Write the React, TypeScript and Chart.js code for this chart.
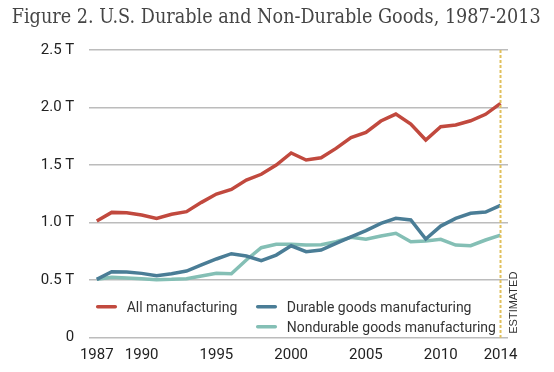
import React, { useEffect, useRef } from 'react';
import { Chart, registerables } from 'chart.js';

Chart.register(...registerables);

const titleText = 'Figure 2. U.S. Durable and Non-Durable Goods, 1987-2013';

const years = [
  1987, 1988, 1989, 1990, 1991, 1992, 1993, 1994, 1995, 1996,
  1997, 1998, 1999, 2000, 2001, 2002, 2003, 2004, 2005, 2006,
  2007, 2008, 2009, 2010, 2011, 2012, 2013, 2014,
];

// trillions of dollars
const allManufacturing = [
  1.014, 1.089, 1.086, 1.066, 1.037, 1.072, 1.095, 1.176, 1.248, 1.289,
  1.37, 1.42, 1.5, 1.605, 1.544, 1.564, 1.645, 1.738, 1.784, 1.883,
  1.943, 1.857, 1.718, 1.833, 1.848, 1.885, 1.941, 2.036,
];

const durableGoods = [
  0.507, 0.573, 0.571, 0.559, 0.539, 0.556, 0.579, 0.632, 0.684, 0.73,
  0.71, 0.669, 0.718, 0.799, 0.747, 0.762, 0.82, 0.877, 0.93, 0.994,
  1.037, 1.023, 0.858, 0.97, 1.037, 1.081, 1.092, 1.15,
];

const nondurableGoods = [
  0.507, 0.525, 0.519, 0.513, 0.504, 0.507, 0.513, 0.536, 0.559, 0.556,
  0.675, 0.782, 0.811, 0.811, 0.805, 0.808, 0.834, 0.872, 0.855, 0.884,
  0.907, 0.834, 0.84, 0.855, 0.805, 0.799, 0.849, 0.892,
];

const seriesLabels = [
  'All manufacturing',
  'Durable goods manufacturing',
  'Nondurable goods manufacturing',
];
const seriesColors = ['#c1493e', '#4a7d96', '#84bfb5'];

const xTickYears = [1987, 1990, 1995, 2000, 2005, 2010, 2014];
const yTickValues = [0, 0.5, 1, 1.5, 2, 2.5];
const estimatedYear = 2014;
const estimatedLabel = 'ESTIMATED';

const toPoints = (vals: number[]) => vals.map((v, i) => ({ x: years[i], y: v }));

const legendSlots = [
  { x: 95.7, y: 306.7 },
  { x: 255.7, y: 306.7 },
  { x: 255.7, y: 326.7 },
];

const overlayPlugin = {
  id: 'overlay',
  afterDatasetsDraw(chart: any) {
    const { ctx, chartArea, scales } = chart;
    const px = scales.x.getPixelForValue(estimatedYear);

    // estimated marker line
    ctx.save();
    ctx.strokeStyle = '#e0c05c';
    ctx.lineWidth = 2;
    ctx.setLineDash([3, 2]);
    ctx.beginPath();
    ctx.moveTo(px, chartArea.top);
    ctx.lineTo(px, chartArea.bottom);
    ctx.stroke();
    ctx.restore();

    // ESTIMATED label
    ctx.save();
    ctx.translate(px + 13.5, chartArea.bottom - 35);
    ctx.rotate(-Math.PI / 2);
    ctx.font = '11px "Liberation Sans", Arial, sans-serif';
    ctx.fillStyle = '#333';
    ctx.textAlign = 'center';
    ctx.textBaseline = 'middle';
    ctx.fillText(estimatedLabel, 0, 0);
    ctx.restore();
  },
  afterDraw(chart: any) {
    const { ctx } = chart;
    // title
    ctx.save();
    ctx.font = '19.5px "DejaVu Serif", serif';
    ctx.fillStyle = '#454545';
    ctx.textAlign = 'left';
    ctx.textBaseline = 'alphabetic';
    const w = ctx.measureText(titleText).width;
    const target = 529;
    ctx.translate(11.7, 23.3);
    ctx.scale(target / w, 1);
    ctx.fillText(titleText, 0, 0);
    ctx.restore();

    // legend
    chart.data.datasets.forEach((ds: any, i: number) => {
      const slot = legendSlots[i];
      if (!slot) return;
      ctx.save();
      ctx.strokeStyle = ds.borderColor;
      ctx.lineWidth = 3.5;
      ctx.lineCap = 'round';
      ctx.beginPath();
      ctx.moveTo(slot.x + 2, slot.y);
      ctx.lineTo(slot.x + 19.6, slot.y);
      ctx.stroke();
      ctx.font = '14px Roboto, sans-serif';
      ctx.fillStyle = '#333';
      ctx.textAlign = 'left';
      ctx.textBaseline = 'alphabetic';
      ctx.fillText(ds.label, slot.x + 31, slot.y + 4.8);
      ctx.restore();
    });
  },
};

export default function App() {
  const canvasRef = useRef<HTMLCanvasElement | null>(null);

  useEffect(() => {
    if (!canvasRef.current) return;
    const seriesData = [allManufacturing, durableGoods, nondurableGoods];
    const chart = new Chart(canvasRef.current, {
      type: 'line',
      data: {
        datasets: seriesData.map((vals, i) => ({
          label: seriesLabels[i],
          data: toPoints(vals),
          borderColor: seriesColors[i],
          backgroundColor: seriesColors[i],
          borderWidth: 3.5,
          pointRadius: 0,
          pointHoverRadius: 0,
          tension: 0,
          fill: false,
        })),
      },
      options: {
        animation: false,
        responsive: false,
        devicePixelRatio: 1,
        layout: { padding: { left: 0, right: 46, top: 50, bottom: 0 } },
        plugins: {
          legend: { display: false },
          tooltip: { enabled: false },
          title: { display: false },
        },
        scales: {
          x: {
            type: 'linear',
            min: 1986.5,
            max: 2014.5,
            afterBuildTicks: (s: any) => {
              s.ticks = xTickYears.map((v) => ({ value: v }));
            },
            afterFit: (s: any) => {
              s.height = 34.3;
            },
            ticks: {
              autoSkip: false,
              maxRotation: 0,
              padding: 9,
              color: '#222',
              font: { family: 'Roboto', size: 15 },
              callback: (v: any) => String(v),
            },
            grid: { display: false, drawTicks: false },
            border: { display: false },
          },
          y: {
            min: 0,
            max: 2.5,
            afterBuildTicks: (s: any) => {
              s.ticks = yTickValues.map((v) => ({ value: v }));
            },
            afterFit: (s: any) => {
              s.width = 89.3;
            },
            ticks: {
              padding: 15,
              color: '#222',
              font: { family: 'Roboto', size: 15 },
              callback: (v: any) => (Number(v) === 0 ? '0' : Number(v).toFixed(1) + ' T'),
            },
            grid: { color: '#bcbcbc', lineWidth: 1.5, drawTicks: false },
            border: { display: false },
          },
        },
      },
      plugins: [overlayPlugin],
    });
    return () => chart.destroy();
  }, []);

  return (
    <div
      style={{
        position: 'fixed',
        left: 0,
        top: 0,
        width: 554,
        height: 372,
        background: '#fff',
      }}
    >
      <canvas ref={canvasRef} width={554} height={372} style={{ display: 'block' }} />
    </div>
  );
}
